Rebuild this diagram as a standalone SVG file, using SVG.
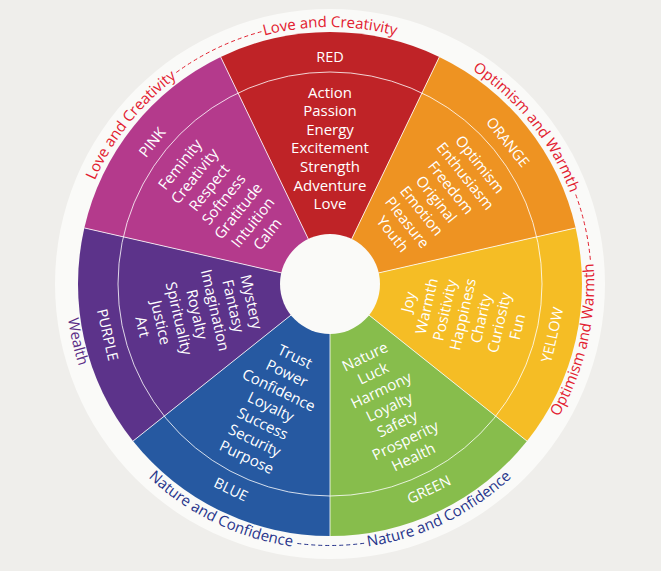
<svg xmlns="http://www.w3.org/2000/svg" width="661" height="571" viewBox="0 0 661 571">
<style>
.w{font-family:"Open Sans","Noto Sans","DejaVu Sans",sans-serif;font-size:15px;fill:#fff;text-anchor:middle}
.l{font-family:"Open Sans","Noto Sans","DejaVu Sans",sans-serif;font-size:14.5px;fill:#fff;text-anchor:middle}
.rt{font-family:"Open Sans","Noto Sans","DejaVu Sans",sans-serif;font-size:15px;text-anchor:middle}
.sep{stroke:#fff;stroke-opacity:.8;stroke-width:1;fill:none}
.dash{fill:none;stroke-width:1;stroke-dasharray:4 3}
</style>
<defs>
<path id="pTop" d="M73,284 A257,257 0 0 1 587,284"/>
<path id="pPink" d="M169.76,484.93 A257,257 0 0 1 490.24,83.07"/>
<path id="pOrange" d="M169.76,83.07 A257,257 0 0 1 490.24,484.93"/>
<path id="pYellow" d="M270.92,542.84 A265.5,265.5 0 0 0 389.08,25.16"/>
<path id="pPurple" d="M270.92,25.16 A265.5,265.5 0 0 0 389.08,542.84"/>
<path id="pBlue" d="M90.79,168.81 A265.5,265.5 0 0 0 569.21,399.19"/>
<path id="pGreen" d="M90.79,399.19 A265.5,265.5 0 0 0 569.21,168.81"/>
</defs>
<rect width="661" height="571" fill="#EFEEEB"/>
<circle cx="330" cy="284" r="275" fill="#FAFAF8"/>

<g id="red">
<path fill="#BF2327" d="M330,284 L220.66,56.96 A252,252 0 0 1 439.34,56.96 Z"/>
<text class="l" x="330" y="61.7">RED</text>
<text class="w"><tspan x="330" y="97.5">Action</tspan><tspan x="330" y="116.1">Passion</tspan><tspan x="330" y="134.7">Energy</tspan><tspan x="330" y="153.3">Excitement</tspan><tspan x="330" y="171.9">Strength</tspan><tspan x="330" y="190.5">Adventure</tspan><tspan x="330" y="209.1">Love</tspan></text>
</g>

<g id="orange">
<path fill="#EE9322" d="M330,284 L439.34,56.96 A252,252 0 0 1 575.68,227.93 Z"/>
<g transform="rotate(51.4286 330 284)">
<text class="l" x="330" y="61.7">ORANGE</text>
<text class="w"><tspan x="330" y="97.5">Optimism</tspan><tspan x="330" y="116.1">Enthusiasm</tspan><tspan x="330" y="134.7">Freedom</tspan><tspan x="330" y="153.3">Original</tspan><tspan x="330" y="171.9">Emotion</tspan><tspan x="330" y="190.5">Pleasure</tspan><tspan x="330" y="209.1">Youth</tspan></text>
</g>
</g>

<g id="yellow">
<path fill="#F5BD25" d="M330,284 L575.68,227.93 A252,252 0 0 1 527.02,441.12 Z"/>
<g transform="rotate(-77.1429 330 284)">
<text class="l" x="330" y="517.2">YELLOW</text>
<text class="w"><tspan x="330" y="369.8">Joy</tspan><tspan x="330" y="388.4">Warmth</tspan><tspan x="330" y="407">Positivity</tspan><tspan x="330" y="425.6">Happiness</tspan><tspan x="330" y="444.2">Charity</tspan><tspan x="330" y="462.8">Curiosity</tspan><tspan x="330" y="481.4">Fun</tspan></text>
</g>
</g>

<g id="green">
<path fill="#87BD4C" d="M330,284 L527.02,441.12 A252,252 0 0 1 330,536 Z"/>
<g transform="rotate(-25.7143 330 284)">
<text class="l" x="330" y="517.2">GREEN</text>
<text class="w"><tspan x="330" y="369.8">Nature</tspan><tspan x="330" y="388.4">Luck</tspan><tspan x="330" y="407">Harmony</tspan><tspan x="330" y="425.6">Loyalty</tspan><tspan x="330" y="444.2">Safety</tspan><tspan x="330" y="462.8">Prosperity</tspan><tspan x="330" y="481.4">Health</tspan></text>
</g>
</g>

<g id="blue">
<path fill="#2659A1" d="M330,284 L330,536 A252,252 0 0 1 132.98,441.12 Z"/>
<g transform="rotate(25.7143 330 284)">
<text class="l" x="330" y="517.2">BLUE</text>
<text class="w"><tspan x="330" y="369.8">Trust</tspan><tspan x="330" y="388.4">Power</tspan><tspan x="330" y="407">Confidence</tspan><tspan x="330" y="425.6">Loyalty</tspan><tspan x="330" y="444.2">Success</tspan><tspan x="330" y="462.8">Security</tspan><tspan x="330" y="481.4">Purpose</tspan></text>
</g>
</g>

<g id="purple">
<path fill="#5C338A" d="M330,284 L132.98,441.12 A252,252 0 0 1 84.32,227.93 Z"/>
<g transform="rotate(77.1429 330 284)">
<text class="l" x="330" y="517.2">PURPLE</text>
<text class="w"><tspan x="330" y="369.8">Mystery</tspan><tspan x="330" y="388.4">Fantasy</tspan><tspan x="330" y="407">Imagination</tspan><tspan x="330" y="425.6">Royalty</tspan><tspan x="330" y="444.2">Spirituality</tspan><tspan x="330" y="462.8">Justice</tspan><tspan x="330" y="481.4">Art</tspan></text>
</g>
</g>

<g id="pink">
<path fill="#B43A8C" d="M330,284 L84.32,227.93 A252,252 0 0 1 220.66,56.96 Z"/>
<g transform="rotate(-51.4286 330 284)">
<text class="l" x="330" y="61.7">PINK</text>
<text class="w"><tspan x="330" y="97.5">Feminity</tspan><tspan x="330" y="116.1">Creativity</tspan><tspan x="330" y="134.7">Respect</tspan><tspan x="330" y="153.3">Softness</tspan><tspan x="330" y="171.9">Gratitude</tspan><tspan x="330" y="190.5">Intuition</tspan><tspan x="330" y="209.1">Calm</tspan></text>
</g>
</g>

<g id="dividers">
<path class="sep" d="M330,284 L330,536 M330,284 L132.98,441.12 M330,284 L84.32,227.93 M330,284 L220.66,56.96 M330,284 L439.34,56.96 M330,284 L575.68,227.93 M330,284 L527.02,441.12"/>
<circle class="sep" cx="330" cy="284" r="212"/>
<circle cx="330" cy="284" r="50" fill="#FAFAF8"/>
</g>

<g id="ring-labels">
<text class="rt" fill="#E2202F"><textPath href="#pTop" startOffset="50%">Love and Creativity</textPath></text>
<text class="rt" fill="#E2202F"><textPath href="#pPink" startOffset="50%">Love and Creativity</textPath></text>
<text class="rt" fill="#E2202F"><textPath href="#pOrange" startOffset="50%">Optimism and Warmth</textPath></text>
<text class="rt" fill="#E2202F"><textPath href="#pYellow" startOffset="50%">Optimism and Warmth</textPath></text>
<text class="rt" fill="#5B2D86"><textPath href="#pPurple" startOffset="50%">Wealth</textPath></text>
<text class="rt" fill="#27348B"><textPath href="#pBlue" startOffset="50%">Nature and Confidence</textPath></text>
<text class="rt" fill="#27348B"><textPath href="#pGreen" startOffset="50%">Nature and Confidence</textPath></text>
</g>

<g id="connectors">
<path class="dash" stroke="#E2202F" d="M176.29,72.44 A261.5,261.5 0 0 1 261.44,31.65"/>
<path class="dash" stroke="#E2202F" d="M575.73,194.56 A261.5,261.5 0 0 1 590.50,261.21"/>
<path class="dash" stroke="#27348B" d="M364.13,543.26 A261.5,261.5 0 0 1 295.87,543.26"/>
</g>
</svg>
